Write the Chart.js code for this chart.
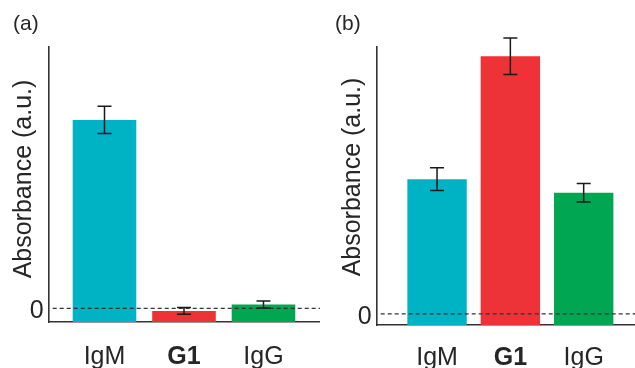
<!DOCTYPE html>
<html>
<head>
<meta charset="utf-8">
<script src="https://cdn.jsdelivr.net/npm/chart.js@4.4.1/dist/chart.umd.min.js"></script>
<style>
    html, body { margin: 0; padding: 0; background: #fff; }
    #wrap { position: relative; width: 635px; height: 368px; overflow: hidden; }
    #wrap canvas { position: absolute; top: 0; }
</style>
</head>
<body>
<div id="wrap">
    <canvas id="chart-a" width="320" height="368" style="left:0"></canvas>
    <canvas id="chart-b" width="315" height="368" style="left:320px"></canvas>
</div>
<script>
const categories = ['IgM', 'G1', 'IgG'];
const barColors = ['#00b3c4', '#ee3338', '#00a651'];
const yTicks = [0];
const yTitle = 'Absorbance (a.u.)';

// panel (a)
const valuesA = [1.0, -0.013, 0.021];
const errorsA = [0.072, 0.018, 0.019];
const yRangeA = [-0.072, 1.387];

// panel (b)
const valuesB = [0.523, 1.0, 0.470];
const errorsB = [0.044, 0.071, 0.036];
const yRangeB = [-0.043, 1.036];

const FONT = '"Liberation Sans", Arial, Helvetica, sans-serif';
const INK = '#262626';

// zero line, error bars, panel letter and rotated y title
const decorations = {
    id: 'decorations',
    afterDatasetsDraw(chart, args, opts) {
        const { ctx, chartArea, scales: { y } } = chart;
        const y0 = y.getPixelForValue(0);
        ctx.save();
        ctx.strokeStyle = '#333';
        ctx.lineWidth = 1.2;
        ctx.setLineDash([4, 3]);
        ctx.beginPath();
        ctx.moveTo(chartArea.left + 4, y0);
        ctx.lineTo(chartArea.right, y0);
        ctx.stroke();
        ctx.restore();
    },
    afterDraw(chart, args, opts) {
        const { ctx, scales: { y } } = chart;
        const bars = chart.getDatasetMeta(0).data;
        ctx.save();
        ctx.strokeStyle = '#1a1a1a';
        ctx.lineWidth = 1.5;
        opts.values.forEach((v, i) => {
            const cx = bars[i].x;
            const hi = y.getPixelForValue(v + opts.errors[i]);
            const lo = y.getPixelForValue(v - opts.errors[i]);
            ctx.beginPath();
            ctx.moveTo(cx, hi); ctx.lineTo(cx, lo);
            ctx.moveTo(cx - 7, hi); ctx.lineTo(cx + 7, hi);
            ctx.moveTo(cx - 7, lo); ctx.lineTo(cx + 7, lo);
            ctx.stroke();
        });
        ctx.fillStyle = INK;
        ctx.font = `21px ${FONT}`;
        ctx.textAlign = 'left';
        ctx.textBaseline = 'alphabetic';
        ctx.fillText(opts.label, opts.labelX, 30);
        ctx.translate(opts.titleX, opts.titleY);
        ctx.rotate(-Math.PI / 2);
        ctx.textAlign = 'center';
        ctx.font = `25px ${FONT}`;
        ctx.fillText(yTitle, 0, 0);
        ctx.restore();
    },
};

function makePanel(id, cfg) {
    return new Chart(document.getElementById(id), {
        type: 'bar',
        data: {
            datasets: [{
                data: cfg.values.map((v, i) => ({ x: i + 1, y: [cfg.yRange[0], v] })),
                backgroundColor: barColors,
                borderWidth: 0,
                barPercentage: cfg.barPct,
                categoryPercentage: 1,
            }],
        },
        options: {
            responsive: false, devicePixelRatio: 1, animation: false,
            layout: { padding: { top: 47, left: 0, right: 0, bottom: 0 } },
            plugins: {
                legend: { display: false }, tooltip: { enabled: false },
                decorations: { values: cfg.values, errors: cfg.errors, label: cfg.label, labelX: cfg.labelX, titleX: cfg.titleX, titleY: cfg.titleY },
            },
            scales: {
                x: {
                    type: 'linear', offset: false,
                    min: cfg.xRange[0], max: cfg.xRange[1],
                    afterBuildTicks: (s) => { s.ticks = categories.map((c, i) => ({ value: i + 1 })); },
                    afterFit: (s) => { s.height = cfg.xHeight; },
                    grid: { display: false, drawTicks: false },
                    border: { display: true, color: '#333', width: 1.6 },
                    ticks: {
                        autoSkip: false, maxRotation: 0, padding: cfg.xPad, color: INK,
                        callback: (v) => categories[v - 1],
                        font: (c) => ({ family: FONT, size: 25, weight: c.tick && c.tick.value === 2 ? 'bold' : 'normal' }),
                    },
                },
                y: {
                    min: cfg.yRange[0], max: cfg.yRange[1],
                    afterBuildTicks: (s) => { s.ticks = yTicks.map((v) => ({ value: v })); },
                    afterFit: (s) => { s.width = cfg.yWidth; },
                    grid: { display: false, drawTicks: false },
                    border: { display: true, color: '#333', width: 1.6 },
                    ticks: { padding: 5, labelOffset: 3, color: INK, font: { family: FONT, size: 25 } },
                },
            },
        },
        plugins: [decorations],
    });
}

makePanel('chart-a', {
    values: valuesA, errors: errorsA, yRange: yRangeA,
    xRange: [0.298, 3.711], barPct: 0.8,
    yWidth: 48.7, xHeight: 46, xPad: 20,
    label: '(a)', labelX: 13, titleX: 31, titleY: 179,
});
makePanel('chart-b', {
    values: valuesB, errors: errorsB, yRange: yRangeB,
    xRange: [0.177, 3.70], barPct: 0.81,
    yWidth: 56.7, xHeight: 43, xPad: 18,
    label: '(b)', labelX: 15, titleX: 40, titleY: 177,
});
</script>
</body>
</html>
